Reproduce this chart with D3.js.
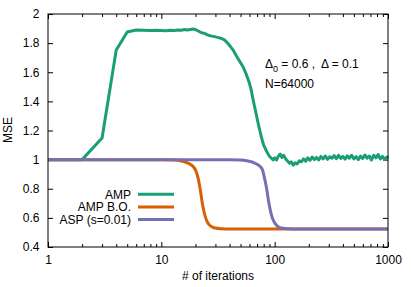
<!DOCTYPE html>
<html><head><meta charset="utf-8">
<script src="https://cdn.jsdelivr.net/npm/d3@7"></script>
<style>
html,body{margin:0;padding:0;background:#fff;}
text{font-family:"Liberation Sans",Arial,sans-serif;fill:#000;}
</style></head>
<body>
<svg id="c" width="411" height="287"></svg>
<script>
const ampX = [1,2,3,4,5,6,7,8,9,10,11,12,13,14,15,16,17,18,19,20,21,22,23,24,25,26,27,28,30,32,34,36,38,40,43,46,50,53,56,58,60,62,64,66,68,70,72,74,76,78,80,82,85,88,91,94,97,
  100,104,108,112,116,120,125,130,135,140,146,152,158,165,172,180,188,196,205,214,224,234,245,256,268,280,293,306,320,335,350,366,383,400,418,437,457,478,500,523,547,572,598,625,654,684,715,748,782,818,855,894,935,978,1000];
const ampY = [1.0,1.0,1.148,1.753,1.876,1.89,1.888,1.886,1.889,1.887,1.885,1.889,1.887,1.89,1.888,1.893,1.89,1.894,1.897,1.893,1.885,1.876,1.87,1.868,1.86,1.855,1.851,1.848,1.843,1.838,1.832,1.822,1.805,1.785,1.752,1.712,1.665,1.632,1.588,1.555,1.522,1.48,1.425,1.375,1.33,1.282,1.238,1.2,1.162,1.128,1.1,1.082,1.055,1.035,1.018,1.008,0.998,
  1.012,0.998,1.025,1.038,1.015,1.03,1.005,0.99,0.975,0.985,0.962,0.978,0.97,0.992,0.985,1.005,0.99,1.012,0.995,1.018,1.0,1.015,0.998,1.022,1.005,1.025,1.002,1.02,1.01,1.028,1.006,1.03,1.008,1.022,1.004,1.026,1.01,1.03,1.005,1.02,1.0,1.024,1.008,1.032,1.01,1.025,0.998,1.03,1.012,1.035,1.005,1.022,1.0,1.018,1.008];
const boX = [1,10,13,15,17,19,20,21,22,23,24,25,26,28,30,34,40,100,1000];
const boY = [1.0,1.0,0.998,0.99,0.978,0.955,0.93,0.88,0.8,0.7,0.63,0.585,0.56,0.538,0.53,0.525,0.523,0.523,0.523];
const aspX = [1,40,50,58,66,74,78,81,85,89,93,97,101,108,116,132,160,1000];
const aspY = [1.0,1.0,0.998,0.99,0.978,0.955,0.93,0.88,0.8,0.7,0.63,0.585,0.56,0.538,0.53,0.525,0.523,0.523];
const seriesNames = ["AMP","AMP B.O.","ASP (s=0.01)"];
const colors = ["#1b9e77","#d95f02","#7570b3"];
const yTicks = [0.4,0.6,0.8,1,1.2,1.4,1.6,1.8,2];
const xTicks = [1,10,100,1000];

const svg = d3.select("#c");
const L=48, R=388, T=14, B=247;
const FS = "12px";
const x = d3.scaleLog().domain([1,1000]).range([L,R]);
const y = d3.scaleLinear().domain([0.4,2]).range([B,T]);

const minor = [];
for (let d=1; d<1000; d*=10) for (let k=2;k<=9;k++) minor.push(d*k);

const fmtY = d => d===1||d===2 ? String(d) : d3.format(".1f")(d);
svg.append("g").attr("transform",`translate(${L},0)`)
  .call(d3.axisLeft(y).tickValues(yTicks).tickFormat(fmtY).tickSize(-5).tickPadding(8.5))
  .call(g=>{g.select(".domain").remove(); g.selectAll("text").style("font-size",FS).attr("font-family","Liberation Sans, Arial, sans-serif");});
svg.append("g").attr("transform",`translate(${R},0)`)
  .call(d3.axisRight(y).tickValues(yTicks).tickFormat("").tickSize(-5))
  .call(g=>g.select(".domain").remove());
svg.append("g").attr("transform",`translate(0,${B})`)
  .call(d3.axisBottom(x).tickValues(xTicks).tickFormat(d3.format("d")).tickSize(-5).tickPadding(8))
  .call(g=>{g.select(".domain").remove(); g.selectAll("text").style("font-size",FS).attr("font-family","Liberation Sans, Arial, sans-serif");});
svg.append("g").attr("transform",`translate(0,${B})`)
  .call(d3.axisBottom(x).tickValues(minor).tickFormat("").tickSize(-3))
  .call(g=>g.select(".domain").remove());
svg.append("g").attr("transform",`translate(0,${T})`)
  .call(d3.axisTop(x).tickValues(xTicks).tickFormat("").tickSize(-5))
  .call(g=>g.select(".domain").remove());
svg.append("g").attr("transform",`translate(0,${T})`)
  .call(d3.axisTop(x).tickValues(minor).tickFormat("").tickSize(-3))
  .call(g=>g.select(".domain").remove());

const datasets = [
  ampX.map((v,i)=>[v,ampY[i]]),
  boX.map((v,i)=>[v,boY[i]]),
  aspX.map((v,i)=>[v,aspY[i]])
];
const curves = [d3.curveLinear, d3.curveMonotoneX, d3.curveMonotoneX];
datasets.forEach((ds,i)=>{
  svg.append("path").datum(ds)
    .attr("fill","none").attr("stroke",colors[i]).attr("stroke-width",3)
    .attr("stroke-linejoin","round")
    .attr("d", d3.line().x(d=>x(d[0])).y(d=>y(d[1])).curve(curves[i]));
});

svg.append("rect").attr("x",L).attr("y",T).attr("width",R-L).attr("height",B-T)
  .attr("fill","none").attr("stroke","#000").attr("stroke-width",1);

const legY = [194.3,207,219.5];
seriesNames.forEach((n,i)=>{
  svg.append("text").attr("x",131).attr("y",legY[i]+4.2).attr("text-anchor","end")
    .style("font-size",FS).text(n);
  svg.append("line").attr("x1",138).attr("x2",174).attr("y1",legY[i]).attr("y2",legY[i])
    .attr("stroke",colors[i]).attr("stroke-width",3);
});

const t1 = svg.append("text").attr("x",265).attr("y",67.5).style("font-size",FS).style("white-space","pre");
t1.append("tspan").text("Δ");
t1.append("tspan").attr("dy",4).style("font-size","9px").text("0");
t1.append("tspan").attr("dy",-4).text(" = 0.6 ,  Δ = 0.1");
svg.append("text").attr("x",265).attr("y",87.5).style("font-size",FS).text("N=64000");

svg.append("text").attr("x",218).attr("y",280).attr("text-anchor","middle").style("font-size",FS).text("# of iterations");
svg.append("text").attr("transform","translate(12,130) rotate(-90)").attr("text-anchor","middle").style("font-size",FS).text("MSE");
</script>
</body></html>
